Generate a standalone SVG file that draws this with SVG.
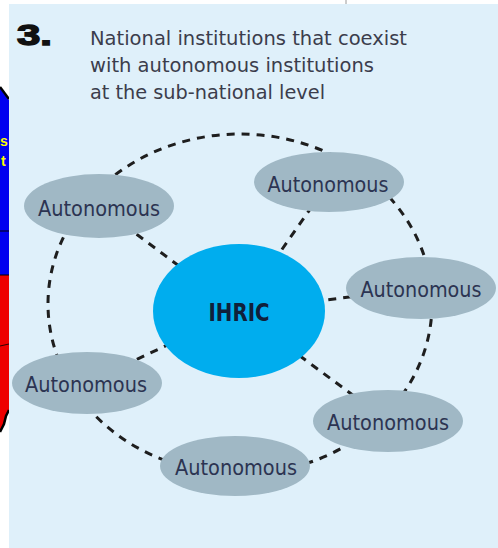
<svg xmlns="http://www.w3.org/2000/svg" width="498" height="548" viewBox="0 0 498 548">
<defs>
<style>
.node{fill:#a0b8c5}
.lbl{font-family:"Liberation Sans Narrow","DejaVu Sans Condensed","Liberation Sans",sans-serif;font-size:21px;fill:#2c3452;text-anchor:middle}
.conn{fill:none;stroke:#1e1e1e;stroke-width:3;stroke-dasharray:8 7}
.title{font-family:"Liberation Sans Narrow","DejaVu Sans Condensed","Liberation Sans",sans-serif;font-size:20px;fill:#3b3d4c}
.hub{font-family:"Liberation Sans Narrow","DejaVu Sans Condensed","Liberation Sans",sans-serif;font-size:24px;font-weight:bold;fill:#10203a;text-anchor:middle}
.frag{font-family:"Liberation Sans",sans-serif;font-size:14px;font-weight:bold;fill:#ffff00}
</style>
<clipPath id="strip"><rect x="0" y="0" width="9" height="548"/></clipPath>
</defs>
<rect x="0" y="0" width="498" height="548" fill="#ffffff"/>
<line x1="346" y1="0" x2="346" y2="4" stroke="#9a9a9a" stroke-width="1"/>
<g id="left-strip" clip-path="url(#strip)">
<path d="M0,88 L9,100 L9,275 L0,275 Z" fill="#0000f0"/>
<path d="M0,275 L9,275 L9,410 L6,416 L4,424 L1,430 L0,432 Z" fill="#ee0000"/>
<path d="M0,87 L9,99" fill="none" stroke="#000" stroke-width="2.5"/>
<path d="M9,410 L6,416 L4,424 L1,430 L0,432" fill="none" stroke="#000" stroke-width="2.5"/>
<line x1="0" y1="231" x2="9" y2="231" stroke="#000" stroke-width="1"/>
<line x1="0" y1="275" x2="9" y2="275" stroke="#000" stroke-width="1"/>
<line x1="0" y1="346" x2="9" y2="344" stroke="#300" stroke-width="1"/>
<text class="frag" x="0" y="146">s</text>
<text class="frag" x="1" y="166">t</text>
</g>
<rect x="9" y="4" width="489" height="544" fill="#dff0fa"/>
<text x="17" y="45" font-family="Liberation Sans,sans-serif" font-size="29" font-weight="900" fill="#111" stroke="#111" stroke-width="1.4" textLength="35" lengthAdjust="spacingAndGlyphs">3.</text>
<text class="title" x="90" y="45" textLength="317" lengthAdjust="spacingAndGlyphs">National institutions that coexist</text>
<text class="title" x="90" y="72" textLength="284" lengthAdjust="spacingAndGlyphs">with autonomous institutions</text>
<text class="title" x="90" y="99" textLength="235" lengthAdjust="spacingAndGlyphs">at the sub-national level</text>
<g id="connectors">
<ellipse class="conn" cx="240" cy="304" rx="192" ry="170"/>
<line class="conn" x1="239" y1="311" x2="99" y2="206"/>
<line class="conn" x1="239" y1="311" x2="329" y2="182"/>
<line class="conn" x1="239" y1="311" x2="421" y2="288"/>
<line class="conn" x1="239" y1="311" x2="388" y2="421"/>
<line class="conn" x1="239" y1="311" x2="87" y2="383"/>
</g>
<g id="ihric">
<ellipse cx="239" cy="311" rx="86" ry="67" fill="#00adee"/>
<text class="hub" x="239" y="321" textLength="61" lengthAdjust="spacingAndGlyphs">IHRIC</text>
</g>
<g id="auto-topleft"><ellipse class="node" cx="99" cy="206" rx="75" ry="32"/><text class="lbl" x="99" y="216" textLength="122" lengthAdjust="spacingAndGlyphs">Autonomous</text></g>
<g id="auto-topright"><ellipse class="node" cx="329" cy="182" rx="75" ry="30"/><text class="lbl" x="328" y="192" textLength="121" lengthAdjust="spacingAndGlyphs">Autonomous</text></g>
<g id="auto-right"><ellipse class="node" cx="421" cy="288" rx="75" ry="31"/><text class="lbl" x="421" y="297" textLength="121" lengthAdjust="spacingAndGlyphs">Autonomous</text></g>
<g id="auto-bottomright"><ellipse class="node" cx="388" cy="421" rx="75" ry="31"/><text class="lbl" x="388" y="430" textLength="122" lengthAdjust="spacingAndGlyphs">Autonomous</text></g>
<g id="auto-bottom"><ellipse class="node" cx="235" cy="466" rx="75" ry="30"/><text class="lbl" x="236" y="475" textLength="122" lengthAdjust="spacingAndGlyphs">Autonomous</text></g>
<g id="auto-bottomleft"><ellipse class="node" cx="87" cy="383" rx="75" ry="31"/><text class="lbl" x="86" y="392" textLength="122" lengthAdjust="spacingAndGlyphs">Autonomous</text></g>
</svg>
